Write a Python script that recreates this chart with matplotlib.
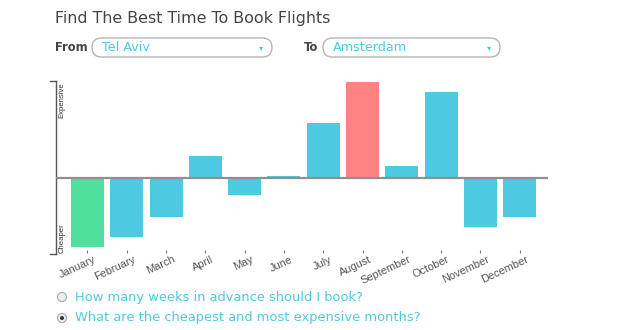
import matplotlib
matplotlib.use("Agg")
import matplotlib.pyplot as plt
from matplotlib.patches import FancyBboxPatch, Circle
from matplotlib.transforms import ScaledTranslation

# Relative price index per month (positive = more expensive, negative = cheaper)
months = ["January", "February", "March", "April", "May", "June", "July",
          "August", "September", "October", "November", "December"]
price_index = [-69, -59, -39, 22, -17, 2, 55, 96, 12, 86, -49, -39]

origin_city = "Tel Aviv"
destination_city = "Amsterdam"
questions = ["How many weeks in advance should I book?",
             "What are the cheapest and most expensive months?"]

CYAN = "#4DCAE2"
GREEN = "#4EE09C"
RED = "#FF8383"
TEXT = "#444444"

W, H = 640, 330
plt.rcParams["font.family"] = ["DejaVu Sans"]
fig = plt.figure(figsize=(W / 100, H / 100), dpi=100)
fig.patch.set_facecolor("white")


def px_rect(left, top, right, bottom):
    return [left / W, 1 - bottom / H, (right - left) / W, (bottom - top) / H]


# --- chart -----------------------------------------------------------------
ax = fig.add_axes(px_rect(56, 80, 548, 250))
lo = min(range(12), key=lambda i: price_index[i])
hi = max(range(12), key=lambda i: price_index[i])
colors = [GREEN if i == lo else RED if i == hi else CYAN for i in range(12)]
x = list(range(12))
ax.bar(x, price_index, width=0.84, color=colors, edgecolor="none", zorder=2)
ax.axhline(0, color="#8f8f8f", lw=1.6, zorder=3)
ax.set_xlim(-0.8, 11.72)
ax.set_ylim(-72, 98)
for s in ax.spines.values():
    s.set_visible(False)
ax.set_yticks([])
ax.set_xticks(x)
ax.set_xticklabels(months, rotation=25, ha="right", rotation_mode="anchor",
                   fontsize=7.9, color="#555555", family="Liberation Sans")
ax.tick_params(axis="x", length=2, width=0.8, color="#777777", pad=1)
shift = ScaledTranslation(6 / 100, 0, fig.dpi_scale_trans)
for lbl in ax.get_xticklabels():
    lbl.set_transform(lbl.get_transform() + shift)

# bracket-style y axis
ax.plot([-0.8, -0.8], [97, -76], color="#555555", lw=1.0, clip_on=False)
ax.plot([-0.95, -0.8], [97, 97], color="#555555", lw=1.0, clip_on=False)
ax.plot([-0.95, -0.8], [-76, -76], color="#555555", lw=1.0, clip_on=False)
ax.text(-0.64, 96, "Expensive", rotation=90, ha="center", va="top",
        fontsize=5.6, color="#333333", family="Liberation Sans")
ax.text(-0.64, -75, "Cheaper", rotation=90, ha="center", va="bottom",
        fontsize=5.6, color="#333333", family="Liberation Sans")

# --- page chrome ------------------------------------------------------------
ov = fig.add_axes([0, 0, 1, 1], zorder=-1)
ov.set_xlim(0, W)
ov.set_ylim(H, 0)
ov.axis("off")

ov.text(55, 18, "Find The Best Time To Book Flights", fontsize=11.4,
        color=TEXT, va="center", ha="left")


def dropdown(label, lx, x0, x1, value):
    ov.text(lx, 47.5, label, fontsize=8.3, fontweight="bold", color=TEXT,
            va="center", ha="left")
    box = FancyBboxPatch((x0, 38), x1 - x0, 19,
                         boxstyle="round,pad=0,rounding_size=9.5",
                         fc="white", ec="#b5b5b5", lw=1.0)
    ov.add_patch(box)
    ov.text(x0 + 10, 47.5, value, fontsize=9.2, color=CYAN, va="center",
            ha="left")
    ov.text(x1 - 11, 47.5, "▾", fontsize=6, color=CYAN, va="center",
            ha="center")


dropdown("From", 55, 92, 272, origin_city)
dropdown("To", 304, 323, 500, destination_city)

for i, q in enumerate(questions):
    yy = 297 + 21 * i
    ov.add_patch(Circle((62, yy), 4.5, fc="#eeeeee", ec="#aaaaaa", lw=0.8))
    if i == 1:
        ov.add_patch(Circle((62, yy), 2.0, fc="#333333", ec="none"))
    ov.text(75, yy, q, fontsize=9.4, color=CYAN, va="center", ha="left")

fig.savefig("out.png", dpi=100, facecolor="white")
